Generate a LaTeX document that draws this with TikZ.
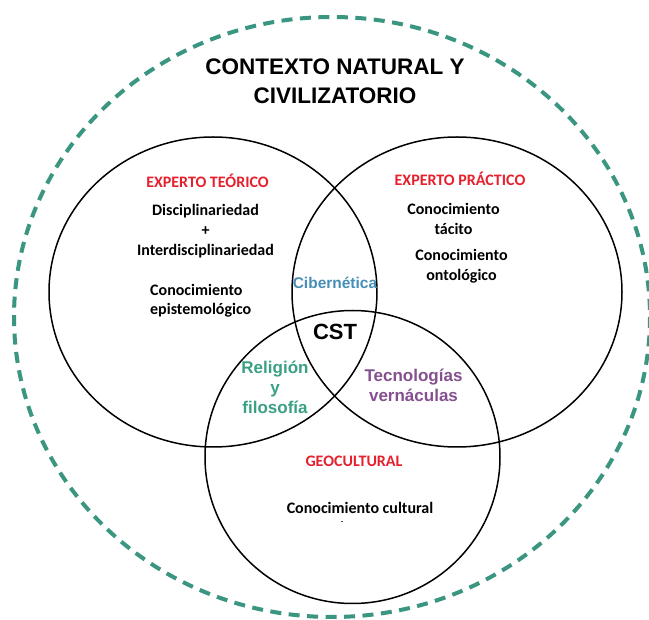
\documentclass[tikz,border=0pt]{standalone}
\usepackage{fontspec}
\setmainfont{Carlito}
\newfontfamily\arialf{Liberation Sans}
\definecolor{dashteal}{RGB}{58,150,128}
\definecolor{lblred}{RGB}{230,32,45}
\definecolor{cibblue}{RGB}{70,142,182}
\definecolor{relgreen}{RGB}{58,160,132}
\definecolor{tecpurple}{RGB}{133,80,143}
\begin{document}
\begin{tikzpicture}[x=1pt,y=-1pt,
  venn/.style={draw=black, line width=1.5pt},
  outerring/.style={draw=dashteal, line width=4pt, dash pattern=on 11pt off 7.5pt},
  head/.style={font=\fontsize{16}{20}\selectfont\bfseries, text=lblred, inner sep=0pt},
  body/.style={font=\fontsize{16}{20}\selectfont\bfseries, inner sep=0pt, align=center},
  inter/.style={font=\arialf\fontsize{17}{20}\selectfont\bfseries, inner sep=0pt, align=center},
  titletext/.style={font=\arialf\fontsize{22.5}{29}\selectfont\bfseries, inner sep=0pt, align=center}]
\useasboundingbox (0,0) rectangle (649,620);
\fill[white] (0,0) rectangle (649,620);
% outer context ring
\draw[outerring] (332,317) ellipse [x radius=318, y radius=300];
% three sets
\draw[venn] (213,292) ellipse [x radius=164, y radius=155];
\draw[venn] (457,292) ellipse [x radius=165, y radius=155];
\draw[venn] (352.5,457) ellipse [x radius=147.5, y radius=146.5];
% title
\node[titletext] (title) at (335,81.5) {CONTEXTO NATURAL Y\\CIVILIZATORIO};
% left set
\node[head] (teorico) at (207.5,181) {EXPERTO TEÓRICO};
\node[body] (disc) at (205.5,231.5) {Disciplinariedad\\+\\Interdisciplinariedad};
\node[body, align=left, anchor=west, font=\fontsize{16}{19.5}\selectfont\bfseries] (epis) at (150,300.5) {Conocimiento\\epistemológico};
% right set
\node[head] (practico) at (460,179) {EXPERTO PRÁCTICO};
\node[body] (tacito) at (453.5,219) {Conocimiento\\tácito};
\node[body] (onto) at (461.5,266) {Conocimiento\\ontológico};
% bottom set
\node[head] (geo) at (354,461.5) {GEOCULTURAL};
\node[body] (cult) at (360,508) {Conocimiento cultural};
\fill[black!70] (340.5,521.3) rectangle (342.5,522.5);
% intersections
\node[inter, text=cibblue, font=\arialf\fontsize{15.5}{19}\selectfont\bfseries] (ciber) at (335,283) {Cibernética};
\node[inter, font=\arialf\fontsize{22}{26}\selectfont\bfseries] (cst) at (335,332) {CST};
\node[inter, text=relgreen] (relig) at (275,387) {Religión\\y\\filosofía};
\node[inter, text=tecpurple] (tecno) at (413.5,385) {Tecnologías\\vernáculas};
\end{tikzpicture}
\end{document}
